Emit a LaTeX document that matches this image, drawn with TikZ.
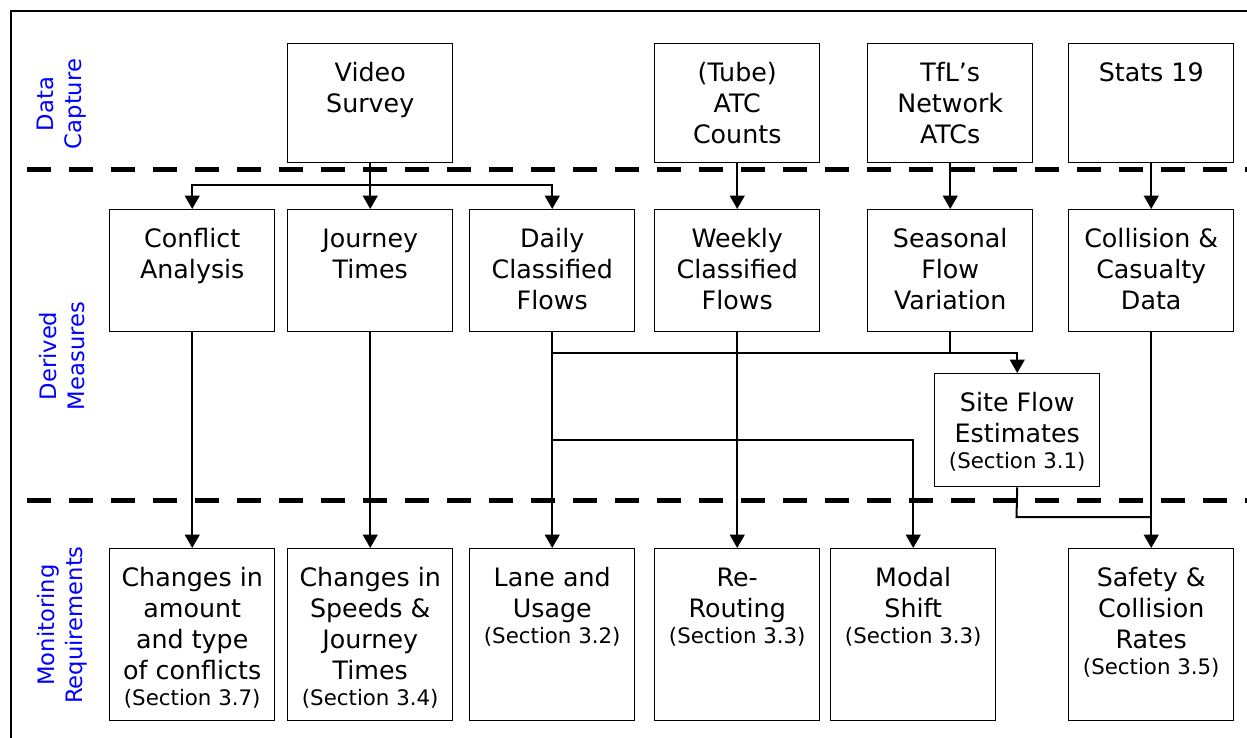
\documentclass[tikz,border=0pt]{standalone}
\usepackage{fontspec}
\setmainfont{DejaVu Sans}
\usetikzlibrary{arrows.meta}

\newcommand{\cellbox}[2]{\parbox[c][#1][t]{123.75pt}{\centering\rule{0pt}{28pt}#2}}
\newcommand{\secline}[1]{\par{\fontsize{16}{19.5}\selectfont #1\par}}

\begin{document}
\begin{tikzpicture}[x=0.75pt, y=-0.75pt,
		box_style/.style={draw=black,line width=1.1pt,inner sep=0pt,anchor=north west,font=\fontsize{19}{23.25}\selectfont},
		group_style/.style={text=blue,rotate=90,align=center,font=\fontsize{17}{21}\selectfont},
		sep_style/.style={draw=black,line width=3.75pt,dash pattern=on 18pt off 13.5pt},
		line_style/.style={draw=black,line width=1.5pt},
		arrow_style/.style={line_style,-{Triangle[length=10pt,width=11pt]}}]
		
		\useasboundingbox (0,0) rectangle (1247,738);
		\clip (0,0) rectangle (1247,738);
		\draw[line width=1.1pt] (11,760) |- (1260,11);
		
		\draw[sep_style] (27,170) -- (1260,170);
		\draw[sep_style] (27,500) -- (1260,500);
		
		\node[group_style] (capture) at (62,104) {Data\\Capture};
		\node[group_style] (derived) at (62,356) {Derived\\Measures};
		\node[group_style] (monitor) at (62,625) {Monitoring\\Requirements};
		
		\node[box_style] (video) at (287,43) {\cellbox{89.25pt}{Video\\Survey}};
		\node[box_style] (atc) at (654,43) {\cellbox{89.25pt}{(Tube)\\ATC\\Counts}};
		\node[box_style] (tfl) at (867,43) {\cellbox{89.25pt}{TfL’s\\Network\\ATCs}};
		\node[box_style] (stats) at (1068,43) {\cellbox{89.25pt}{Stats 19}};
		
		\node[box_style] (conflict) at (109,209) {\cellbox{91.5pt}{Conflict\\Analysis}};
		\node[box_style] (journey) at (287,209) {\cellbox{91.5pt}{Journey\\Times}};
		\node[box_style] (daily) at (469,209) {\cellbox{91.5pt}{Daily\\Classified\\Flows}};
		\node[box_style] (weekly) at (654,209) {\cellbox{91.5pt}{Weekly\\Classified\\Flows}};
		\node[box_style] (seasonal) at (867,209) {\cellbox{91.5pt}{Seasonal\\Flow\\Variation}};
		\node[box_style] (collision) at (1068,209) {\cellbox{91.5pt}{Collision \&\\Casualty\\Data}};
		
		\node[box_style] (siteflow) at (934,373) {\cellbox{84.75pt}{Site Flow\\Estimates\secline{(Section 3.1)}}};
		
		\node[box_style] (amount) at (109,548) {\cellbox{129pt}{Changes in\\amount\\and type\\of conflicts\secline{(Section 3.7)}}};
		\node[box_style] (speeds) at (287,548) {\cellbox{129pt}{Changes in\\Speeds \&\\Journey\\Times\secline{(Section 3.4)}}};
		\node[box_style] (lane) at (469,548) {\cellbox{129pt}{Lane and\\Usage\secline{(Section 3.2)}}};
		\node[box_style] (rerouting) at (654,548) {\cellbox{129pt}{Re-\\Routing\secline{(Section 3.3)}}};
		\node[box_style] (modal) at (830,548) {\cellbox{129pt}{Modal\\Shift\secline{(Section 3.3)}}};
		\node[box_style] (safety) at (1068,548) {\cellbox{129pt}{Safety \&\\Collision\\Rates\secline{(Section 3.5)}}};
		
		\coordinate (vsplit) at (369.5,185);
		\coordinate (djoin) at (551.5,353);
		\coordinate (dsplit) at (551.5,440);
		\coordinate (sjoin) at (1016.5,517);
		
		\draw[arrow_style] (video.south) -- (journey.north);
		\draw[arrow_style] (vsplit) -| (conflict.north);
		\draw[arrow_style] (vsplit) -| (daily.north);
		\draw[arrow_style] (atc.south) -- (weekly.north);
		\draw[arrow_style] (tfl.south) -- (seasonal.north);
		\draw[arrow_style] (stats.south) -- (collision.north);
		
		\draw[arrow_style] (conflict.south) -- (amount.north);
		\draw[arrow_style] (journey.south) -- (speeds.north);
		\draw[arrow_style] (daily.south) -- (lane.north);
		\draw[arrow_style] (weekly.south) -- (rerouting.north);
		\draw[arrow_style] (djoin) -| (siteflow.north);
		\draw[line_style] (seasonal.south) -- (seasonal.south |- djoin);
		\draw[arrow_style] (dsplit) -| (modal.north);
		\draw[arrow_style] (collision.south) -- (safety.north);
		\draw[line_style] (siteflow.south) -- (sjoin) -- (sjoin -| collision.south);
		
\end{tikzpicture}
\end{document}
